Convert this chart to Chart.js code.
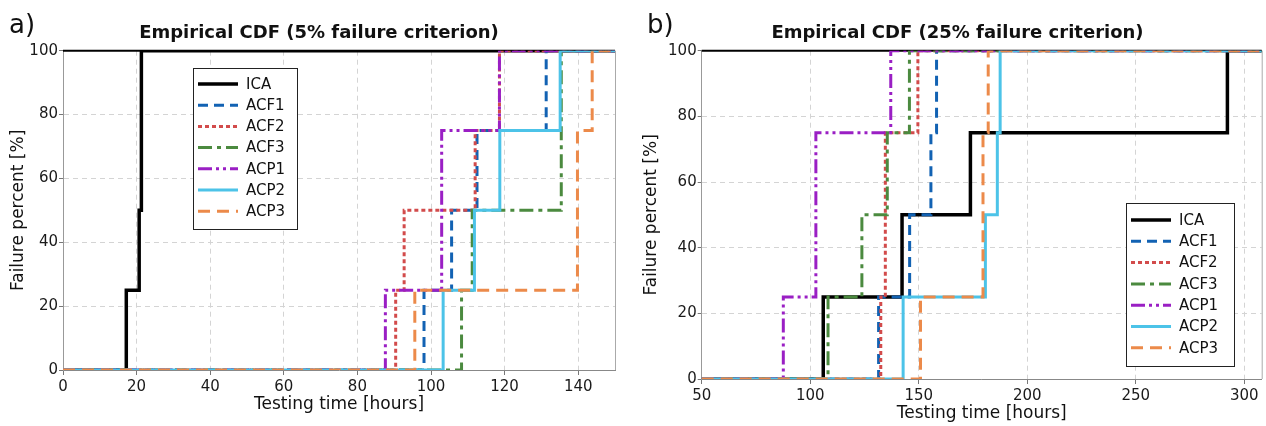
<!DOCTYPE html>
<html>
<head>
<meta charset="utf-8">
<script src="https://cdn.jsdelivr.net/npm/chart.js"></script>
<style>
  html, body { margin: 0; padding: 0; background: #fff; }
  .wrap { display: flex; width: 1266px; height: 426px; }
  .panel { position: relative; width: 633px; height: 426px; }
</style>
</head>
<body>
<div class="wrap">
  <div class="panel"><canvas id="cdfA"></canvas></div>
  <div class="panel"><canvas id="cdfB"></canvas></div>
</div>
<script>
const seriesNames = ["ICA", "ACF1", "ACF2", "ACF3", "ACP1", "ACP2", "ACP3"];
const failurePercent = [25, 50, 75, 100];

// a) 5% failure criterion - failure time [hours] of each of the 4 specimens
const icaA = [17.2, 20.7, 21.3, 21.3];
const acf1A = [98.1, 105.6, 112.5, 131.3];
const acf2A = [90.4, 92.7, 112.0, 118.6];
const acf3A = [108.3, 111.2, 135.4, 135.4];
const acp1A = [87.6, 102.9, 102.9, 118.6];
const acp2A = [103.3, 111.8, 118.7, 135.1];
const acp3A = [95.6, 139.8, 139.8, 143.8];

// b) 25% failure criterion
const icaB = [106.0, 142.3, 173.8, 292.2];
const acf1B = [131.5, 145.8, 155.6, 158.2];
const acf2B = [132.5, 134.6, 134.6, 149.6];
const acf3B = [108.2, 123.8, 135.5, 145.7];
const acp1B = [87.6, 102.6, 102.6, 137.1];
const acp2B = [142.8, 180.7, 186.2, 187.5];
const acp3B = [150.8, 179.6, 179.6, 182.0];

const xTicksA = [0, 20, 40, 60, 80, 100, 120, 140];
const xTicksB = [50, 100, 150, 200, 250, 300];
const yTicks = [0, 20, 40, 60, 80, 100];

const FONT = "'DejaVu Sans', Verdana, sans-serif";

const lineStyles = [
  { color: "#000000", dash: [], width: 3.5 },
  { color: "#1262b3", dash: [10, 6], width: 3 },
  { color: "#d24b4b", dash: [4, 3], width: 3 },
  { color: "#4b8a3f", dash: [14, 5, 4, 5], width: 3 },
  { color: "#9a1fc4", dash: [14, 4, 3, 4, 3, 4], width: 3 },
  { color: "#4cc3e8", dash: [], width: 3 },
  { color: "#ec8a4a", dash: [12, 7], width: 3 },
];

function stepPoints(times, xMin, xMax) {
  const pts = [{ x: xMin, y: 0 }];
  times.forEach((t, i) => pts.push({ x: t, y: failurePercent[i] }));
  pts.push({ x: xMax, y: 100 });
  return pts;
}

function decorPlugin(cfg) {
  return {
    id: "panelDecor",
    beforeDatasetsDraw(chart) {
      const { ctx, chartArea: a } = chart;
      ctx.save();
      ctx.lineWidth = 1;
      ctx.strokeStyle = "#aaa";
      ctx.beginPath();
      ctx.moveTo(a.right + 0.5, a.top);
      ctx.lineTo(a.right + 0.5, a.bottom);
      ctx.stroke();
      ctx.lineWidth = 2;
      ctx.strokeStyle = "#000";
      ctx.beginPath();
      ctx.moveTo(a.left, a.top);
      ctx.lineTo(a.right, a.top);
      ctx.stroke();
      ctx.restore();
    },
    afterDraw(chart) {
      const { ctx } = chart;
      ctx.save();
      ctx.fillStyle = "#111";
      ctx.textBaseline = "alphabetic";
      ctx.font = "26px " + FONT;
      ctx.textAlign = "left";
      ctx.fillText(cfg.letter, cfg.letterX, 33);
      ctx.font = "bold 18px " + FONT;
      ctx.textAlign = "center";
      ctx.fillText(cfg.title, cfg.titleX, 38);

      // legend box
      const lg = cfg.legend;
      ctx.fillStyle = "#fff";
      ctx.fillRect(lg.x, lg.y, lg.w, lg.h);
      ctx.strokeStyle = "#222";
      ctx.lineWidth = 1;
      ctx.strokeRect(lg.x + 0.5, lg.y + 0.5, lg.w, lg.h);
      ctx.font = "15px " + FONT;
      ctx.textAlign = "left";
      ctx.textBaseline = "middle";
      chart.data.datasets.forEach((ds, i) => {
        const yy = lg.y + lg.firstRow + i * lg.rowGap;
        ctx.save();
        ctx.strokeStyle = ds.borderColor;
        ctx.lineWidth = ds.borderWidth;
        ctx.setLineDash(ds.borderDash);
        ctx.beginPath();
        ctx.moveTo(lg.x + 5, yy);
        ctx.lineTo(lg.x + 45, yy);
        ctx.stroke();
        ctx.restore();
        ctx.fillStyle = "#111";
        ctx.fillText(ds.label, lg.x + 53, yy + 1);
      });
      ctx.restore();
    },
  };
}

function makeCdfChart(id, cfg) {
  const datasets = cfg.series.map((times, i) => ({
    label: seriesNames[i],
    data: stepPoints(times, cfg.xMin, cfg.xMax),
    stepped: true,
    borderColor: lineStyles[i].color,
    borderDash: lineStyles[i].dash,
    borderWidth: lineStyles[i].width,
    pointRadius: 0,
    fill: false,
    order: cfg.series.length - i,
  }));

  return new Chart(document.getElementById(id), {
    type: "line",
    data: { datasets },
    options: {
      responsive: true,
      maintainAspectRatio: false,
      animation: false,
      events: [],
      layout: { padding: { left: 0, right: cfg.padRight, top: 50.7, bottom: 0 } },
      plugins: { legend: { display: false }, tooltip: { enabled: false } },
      scales: {
        x: {
          type: "linear",
          min: cfg.xMin,
          max: cfg.xMax,
          afterBuildTicks: (s) => { s.ticks = cfg.xTicks.map((v) => ({ value: v })); },
          afterFit: (s) => { s.height = cfg.xHeight; },
          grid: { color: "#d4d4d4", tickColor: "#777", tickLength: 5 },
          border: { color: "#888", width: 1, dash: [5, 4] },
          ticks: { color: "#1a1a1a", font: { family: FONT, size: 15 }, padding: 3 },
          title: {
            display: true,
            text: "Testing time [hours]",
            color: "#111",
            font: { family: FONT, size: 17 },
            padding: { top: 0, bottom: cfg.xTitlePad },
          },
        },
        y: {
          min: 0,
          max: 100,
          afterBuildTicks: (s) => { s.ticks = yTicks.map((v) => ({ value: v })); },
          afterFit: (s) => { s.width = cfg.yWidth; },
          grid: { color: "#d4d4d4", tickColor: "#777", tickLength: 4 },
          border: { color: "#999", width: 1, dash: [5, 4] },
          ticks: { color: "#1a1a1a", font: { family: FONT, size: 15 }, padding: 1 },
          title: {
            display: true,
            text: "Failure percent [%]",
            color: "#111",
            font: { family: FONT, size: 17 },
            padding: { top: 8, bottom: 0 },
          },
        },
      },
    },
    plugins: [decorPlugin(cfg)],
  });
}

makeCdfChart("cdfA", {
  series: [icaA, acf1A, acf2A, acf3A, acp1A, acp2A, acp3A],
  xMin: 0,
  xMax: 150,
  xTicks: xTicksA,
  yWidth: 63,
  xHeight: 56,
  padRight: 18,
  xTitlePad: 11,
  letter: "a)",
  letterX: 9,
  title: "Empirical CDF (5% failure criterion)",
  titleX: 319,
  legend: { x: 193, y: 68, w: 104, h: 161, firstRow: 16, rowGap: 21.2 },
});

makeCdfChart("cdfB", {
  series: [icaB, acf1B, acf2B, acf3B, acp1B, acp2B, acp3B],
  xMin: 50,
  xMax: 308,
  xTicks: xTicksB,
  yWidth: 68.7,
  xHeight: 47,
  padRight: 4.3,
  xTitlePad: 2,
  letter: "b)",
  letterX: 14,
  title: "Empirical CDF (25% failure criterion)",
  titleX: 324.5,
  legend: { x: 493, y: 203, w: 108, h: 163, firstRow: 17, rowGap: 21.3 },
});
</script>
</body>
</html>
